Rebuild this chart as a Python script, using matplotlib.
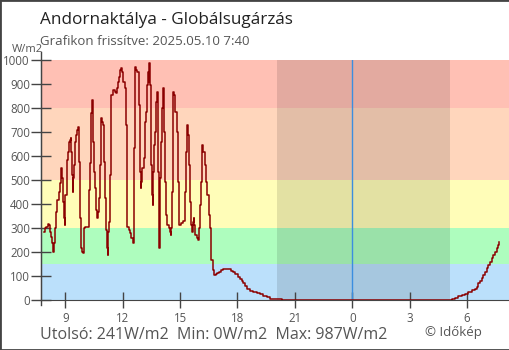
import matplotlib
matplotlib.use("Agg")
import matplotlib.pyplot as plt
from matplotlib.lines import Line2D
from matplotlib.patches import Rectangle

plt.rcParams['font.family'] = ['Open Sans', 'DejaVu Sans']

# hours since midnight of the first day (next day = 24+)
day_h = [7.88, 7.95, 8.01, 8.09, 8.14, 8.18, 8.23, 8.30, 8.37, 8.41, 8.44, 8.51, 8.58, 8.65,
         8.70, 8.75, 8.79, 8.82, 8.86, 8.91, 8.96, 9.00, 9.07, 9.14, 9.19, 9.24, 9.28, 9.31,
         9.35, 9.38, 9.42, 9.45, 9.52, 9.57, 9.63, 9.66, 9.70, 9.73, 9.77, 9.80, 9.87, 9.92,
         9.97, 10.03, 10.15, 10.22, 10.27, 10.32, 10.36, 10.39, 10.43, 10.46, 10.50, 10.57,
         10.62, 10.65, 10.69, 10.74, 10.79, 10.85, 10.88, 10.91, 10.95, 11.00, 11.05, 11.11,
         11.18, 11.21, 11.25, 11.30, 11.33, 11.37, 11.40, 11.47, 11.51, 11.58, 11.63, 11.68,
         11.75, 11.82, 11.87, 11.93, 11.98, 12.03, 12.10, 12.15, 12.20, 12.24, 12.31, 12.38,
         12.45, 12.52, 12.57, 12.60, 12.62, 12.66, 12.69, 12.76, 12.83, 12.87, 12.90, 12.94,
         12.97, 13.02, 13.09, 13.14, 13.18, 13.23, 13.28, 13.32, 13.35, 13.39, 13.42, 13.46,
         13.49, 13.53, 13.56, 13.60, 13.63, 13.68, 13.72, 13.75, 13.79, 13.82, 13.86, 13.89,
         13.93, 13.96, 14.02, 14.07, 14.10, 14.14, 14.17, 14.23, 14.28, 14.33, 14.40, 14.47,
         14.50, 14.54, 14.57, 14.61, 14.64, 14.68, 14.71, 14.75, 14.82, 14.89, 14.96, 15.03,
         15.13, 15.24, 15.27, 15.32, 15.37, 15.41, 15.46, 15.51, 15.57, 15.62, 15.65, 15.71,
         15.74, 15.79, 15.86, 15.93, 15.97, 16.02, 16.07, 16.12, 16.16, 16.21, 16.28, 16.35,
         16.42, 16.49, 16.56, 16.59, 16.63, 16.70, 16.77, 16.86]
day_v = [285, 299, 306, 315, 312, 285, 264, 236, 201, 236, 299, 368, 417, 451,
         486, 535, 549, 507, 410, 340, 312, 437, 583, 618, 660, 667, 674, 618,
         521, 451, 507, 563, 660, 688, 708, 722, 688, 576, 340, 215, 201, 194,
         299, 306, 306, 458, 569, 688, 778, 833, 771, 660, 535, 465,
         375, 340, 368, 424, 563, 688, 757, 743, 729, 576, 424, 292,
         215, 187, 285, 326, 521, 729, 854, 868, 875, 865, 861, 882,
         910, 931, 958, 968, 951, 910, 882, 729, 451, 306, 292, 278,
         257, 236, 368, 632, 854, 972, 958, 951, 910, 812, 535, 465,
         493, 549, 590, 646, 743, 785, 896, 951, 910, 987, 896, 812,
         563, 437, 396, 535, 646, 701, 785, 826, 868, 771, 535, 215,
         382, 507, 660, 799, 882, 826, 701, 493, 354, 312, 299, 285,
         271, 299, 451, 701, 868, 854, 826, 785, 701, 493, 312, 319,
         329, 340, 451, 618, 729, 688, 563, 410, 312, 285, 326, 340,
         312, 271, 257, 250, 299, 396, 493, 590, 646, 618, 563, 493,
         437, 354, 299, 222, 167, 125, 104, 108]

eve_h = [16.94, 17.05, 17.15, 17.26, 17.40, 17.54, 17.64, 17.78, 17.88, 18.02, 18.13, 18.23,
         18.30, 18.41, 18.51, 18.65, 18.82, 19.00, 19.17, 19.35, 19.52, 19.70, 19.87, 20.31,
         20.65, 28.80]
eve_v = [114, 118, 125, 131, 131, 128, 121, 118, 108, 97, 87, 81,
         69, 58, 46, 39, 35, 31, 25, 17, 11, 6, 3, 2,
         0, 0]

morn_h = [28.93, 29.19, 29.37, 29.54, 29.72, 29.89, 30.07, 30.24, 30.41, 30.50, 30.59, 30.68,
          30.76, 30.85, 30.94, 31.02, 31.11, 31.20, 31.29, 31.37, 31.46, 31.55, 31.63, 31.67]
morn_v = [2, 4, 10, 15, 19, 24, 33, 40, 44, 56, 69, 79,
          90, 104, 118, 132, 146, 160, 174, 187, 201, 215, 229, 241]

hours = day_h + eve_h + morn_h
values = day_v + eve_v + morn_v

bands = [(0, 150, '#bbe0fb'), (150, 300, '#aefdbe'), (300, 500, '#fffdb8'),
         (500, 800, '#ffd6bc'), (800, 1000, '#ffc0b4')]
night = (20.07, 29.11)
xticks = [9, 12, 15, 18, 21, 24, 27, 30]
xlabels = ['9', '12', '15', '18', '21', '0', '3', '6']
yticks = list(range(0, 1001, 100))

fig = plt.figure(figsize=(5.1, 3.5), dpi=100)
ax = fig.add_axes([41 / 510, 50 / 350, 468 / 510, 240 / 350])

for lo, hi, c in bands:
    ax.axhspan(lo, hi, color=c, lw=0, zorder=0)
ax.axvspan(night[0], night[1], color='black', alpha=0.11, lw=0, zorder=1)
ax.axvline(24, color='#3b8ee0', lw=1, zorder=2)

ax.plot(hours, values, drawstyle='steps-post', color='#8b0000', lw=1.1, zorder=3)

ax.set_xlim(7.73, 32.19)
ax.set_ylim(0, 1000)
ax.set_xticks(xticks)
ax.set_xticklabels(xlabels)
ax.set_yticks(yticks)
ax.tick_params(axis='both', direction='inout', color='#444444', labelcolor='#555555',
               labelsize=8.3, width=1)
ax.tick_params(axis='x', length=12, pad=3)
ax.tick_params(axis='y', length=14, pad=1)
for s in ['top', 'right']:
    ax.spines[s].set_visible(False)
for s in ['left', 'bottom']:
    ax.spines[s].set_color('#444444')
ax.add_line(Line2D([0, 0], [-0.02, 1.035], transform=ax.transAxes, color='#444444',
                   lw=1, clip_on=False))

fig.text(40 / 510, 1 - 24 / 350, 'Andornaktálya - Globálsugárzás', fontsize=12.3,
         color='#222222', va='baseline')
fig.text(40 / 510, 1 - 45 / 350, 'Grafikon frissítve: 2025.05.10 7:40', fontsize=9.5,
         color='#555555', va='baseline')
fig.text(12 / 510, 1 - 52 / 350, 'W/m2', fontsize=8, color='#555555', va='baseline')
fig.text(40 / 510, 1 - 339 / 350, 'Utolsó: 241W/m2  Min: 0W/m2  Max: 987W/m2',
         fontsize=11.5, color='#555555', va='baseline')
fig.text(425 / 510, 1 - 336 / 350, '© Időkép', fontsize=9.5, color='#555555', va='baseline')

fig.patches.append(Rectangle((0, 0), 1, 1, transform=fig.transFigure, fill=False,
                             edgecolor='#444444', lw=2))

fig.savefig('out.png', dpi=100)
